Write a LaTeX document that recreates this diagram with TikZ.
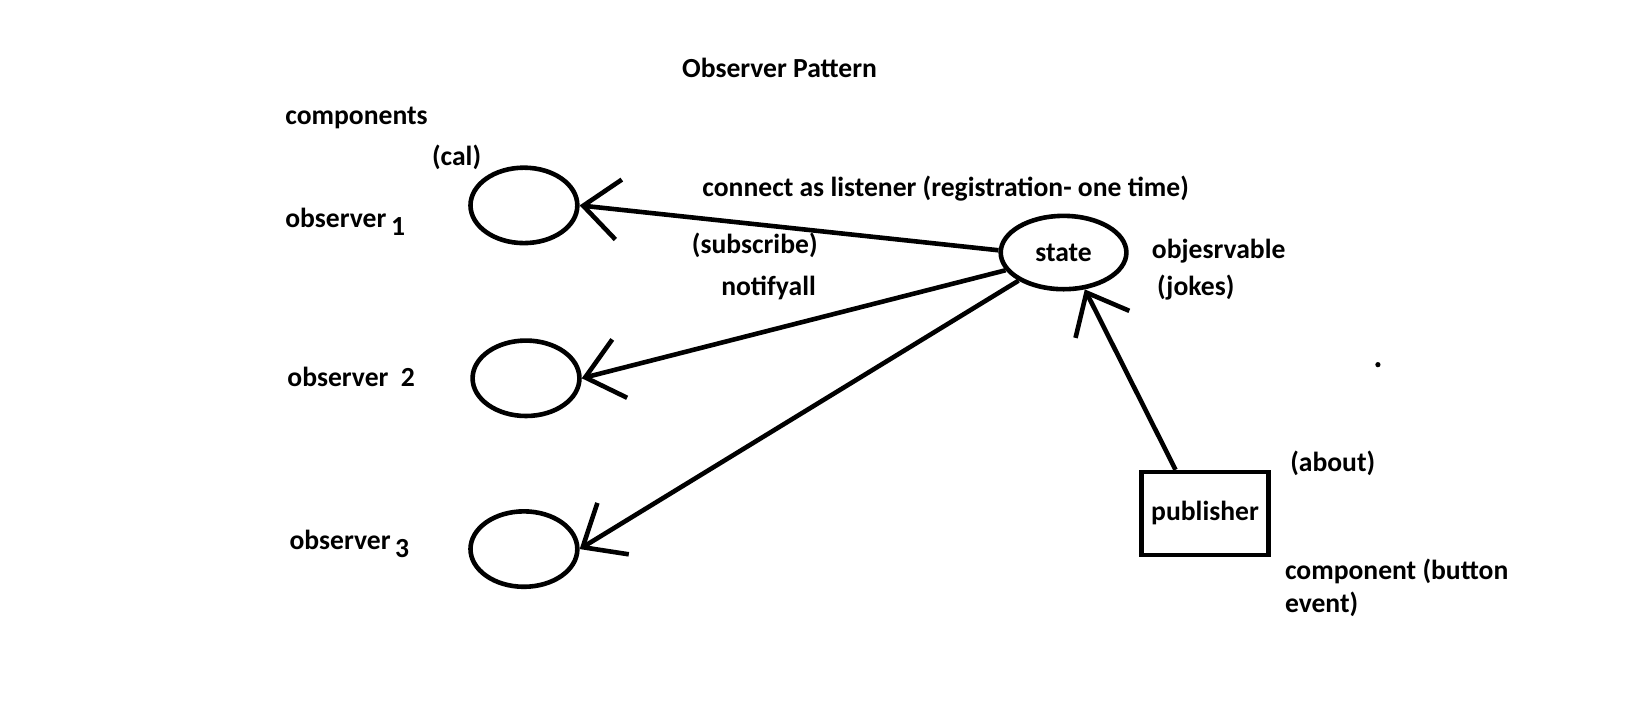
\documentclass[tikz,border=0pt]{standalone}
\usepackage{fontspec}
\setmainfont{Carlito}
\usepackage{tikz}
\usetikzlibrary{arrows.meta,positioning,shapes.geometric}

\tikzset{
  lbl/.style={anchor=west,inner sep=0pt,font=\fontsize{15}{17.6}\selectfont\bfseries},
  obs/.style={draw,ellipse,line width=2.5pt,inner sep=0pt,minimum width=2.04cm,minimum height=1.44cm},
  arr/.style={line width=2.5pt,-{Straight Barb[length=0.68cm,width=1.15cm]}}
}

\begin{document}
\begin{tikzpicture}[x=0.02cm,y=-0.02cm]
\useasboundingbox (0,0) rectangle (1568,691);

\node[lbl,anchor=center] (title) at (744,65) {Observer Pattern};
\node[lbl] (comp) at (272,113) {components};
\node[lbl] (cal) at (412,150) {(cal)};

% observers
\node[lbl] (lbl1) at (272,212) {observer\,\raisebox{-4.5pt}{1}};
\node[lbl] (lbl2) at (274,360) {observer\ \ 2};
\node[lbl] (lbl3) at (276,519) {observer\,\raisebox{-4.5pt}{3}};

\node[obs] (obs1) at (500,196) {};
\node[obs] (obs2) at (502,361) {};
\node[obs] (obs3) at (500,524) {};

% observable
\node[obs,minimum width=2.4cm,minimum height=1.4cm,font=\fontsize{15}{17.6}\selectfont\bfseries] (state) at (1015,241) {state};
\node[lbl] (objs) at (1099,240) {objesrvable};
\node[lbl] (jokes) at (1104,274) {(jokes)};

\node[lbl] (conn) at (670,180) {connect as listener (registration- one time)};
\node[lbl] (subs) at (660,234) {(subscribe)};
\node[lbl] (notif) at (688,275) {notifyall};

% publisher
\node[draw,line width=2.5pt,minimum width=2.42cm,minimum height=1.58cm,font=\fontsize{15}{17.6}\selectfont\bfseries] (pub) at (1150,490) {publisher};
\node[lbl] (about) at (1231,442) {(about)};
\node[lbl,align=left] (compev) at (1226,561) {component (button\\event)};

\draw[arr] (state.178) -- (obs1.east);
\draw[arr] (state.197) -- (obs2.east);
\draw[arr] (state.212) -- (obs3.east);
\draw[arr] (pub.124) -- (state.300);

\fill (1315,348) circle (2.5);

\end{tikzpicture}
\end{document}
